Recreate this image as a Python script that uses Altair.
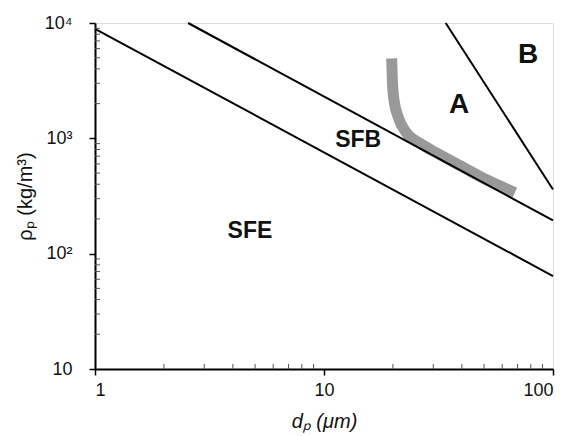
import altair as alt
import pandas as pd

# ---- data ----
line1_x = [1, 100]
line1_y = [8900, 64]
line2_x = [2.55, 100]
line2_y = [10000, 194]
line3_x = [34, 100]
line3_y = [10000, 360]
curve_x = [19.75, 19.88, 20.22, 21.11, 22.97, 26.26, 32.1, 40.6, 51.3, 68.2]
curve_y = [4932, 3194, 2140, 1520, 1110, 905, 720, 560, 437, 339]

small_labels = ["SFE", "SFB"]
small_lx = [4.75, 14.1]
small_ly = [158, 960]
big_labels = ["A", "B"]
big_lx = [38.9, 77.8]
big_ly = [1935, 5250]

x_major = [1, 10, 100]
y_major = [10, 100, 1000, 10000]
x_minor = [2, 3, 4, 5, 6, 7, 8, 9, 20, 30, 40, 50, 60, 70, 80, 90]
y_minor = [20, 30, 40, 50, 60, 70, 80, 90, 200, 300, 400, 500, 600, 700, 800, 900,
           2000, 3000, 4000, 5000, 6000, 7000, 8000, 9000]

W, H = 458, 346
FONT = "Liberation Sans"

xs = alt.Scale(type="log", domain=[1, 100], nice=False)
ys = alt.Scale(type="log", domain=[10, 10000], nice=False)

lines = pd.concat([
    pd.DataFrame({"x": line1_x, "y": line1_y, "id": "l1"}),
    pd.DataFrame({"x": line2_x, "y": line2_y, "id": "l2"}),
    pd.DataFrame({"x": line3_x, "y": line3_y, "id": "l3"}),
])
curve = pd.DataFrame({"x": curve_x, "y": curve_y, "o": range(len(curve_x))})

common_axis = dict(grid=False, tickSize=6, labelFontSize=18, titleFontSize=20,
                   labelFont=FONT, titleFont=FONT, titleFontWeight="normal",
                   domainWidth=2, domainColor="black", tickColor="black",
                   tickWidth=1.5, labelColor="#111111", titleColor="#111111")

gray = alt.Chart(curve).mark_line(color="#999999", strokeWidth=11, interpolate="monotone",
                                  strokeCap="butt").encode(
    x=alt.X("x:Q", scale=xs,
            axis=alt.Axis(values=x_major, title="dₚ (μm)", labelPadding=6, titlePadding=12,
                          titleFontStyle="italic",
                          labelExpr="datum.value == 1 ? '1' : datum.value == 10 ? '10' : '100'",
                          **common_axis)),
    y=alt.Y("y:Q", scale=ys,
            axis=alt.Axis(values=y_major, title="ρₚ (kg/m³)", labelPadding=17, titlePadding=9,
                          labelExpr="datum.value == 10 ? '10' : datum.value == 100 ? '10²' : datum.value == 1000 ? '10³' : '10⁴'",
                          **common_axis)),
    order="o:Q",
)

black = alt.Chart(lines).mark_line(color="black", strokeWidth=2).encode(
    x=alt.X("x:Q", scale=xs), y=alt.Y("y:Q", scale=ys), detail="id:N")

# minor ticks pointing inward
tick_len_x = 10 ** (5 / W * 2)
tick_len_y = 10 ** (5 / H * 3)
ymin_df = pd.DataFrame({"y": y_minor, "x": 1.0, "x2": tick_len_x})
xmin_df = pd.DataFrame({"x": x_minor, "y": 10.0, "y2": 10.0 * tick_len_y})
ymin = alt.Chart(ymin_df).mark_rule(color="#555555", strokeWidth=1).encode(
    x=alt.X("x:Q", scale=xs), x2="x2:Q", y=alt.Y("y:Q", scale=ys))
xmin = alt.Chart(xmin_df).mark_rule(color="#555555", strokeWidth=1).encode(
    x=alt.X("x:Q", scale=xs), y=alt.Y("y:Q", scale=ys), y2="y2:Q")

small = alt.Chart(pd.DataFrame({"t": small_labels, "x": small_lx, "y": small_ly})).mark_text(
    font=FONT, fontSize=23, fontWeight="bold", color="#111111").encode(
    x=alt.X("x:Q", scale=xs), y=alt.Y("y:Q", scale=ys), text="t:N")
big = alt.Chart(pd.DataFrame({"t": big_labels, "x": big_lx, "y": big_ly})).mark_text(
    font=FONT, fontSize=28, fontWeight="bold", color="#111111").encode(
    x=alt.X("x:Q", scale=xs), y=alt.Y("y:Q", scale=ys), text="t:N")

chart = alt.layer(gray, black, ymin, xmin, small, big).properties(
    width=W, height=H,
    autosize=alt.AutoSizeParams(type="none"),
    padding={"left": 95, "top": 23, "right": 19, "bottom": 67},
).configure_view(stroke=None).configure(background="white")

chart.save("out.html", embed_options={"renderer": "svg", "actions": False})
